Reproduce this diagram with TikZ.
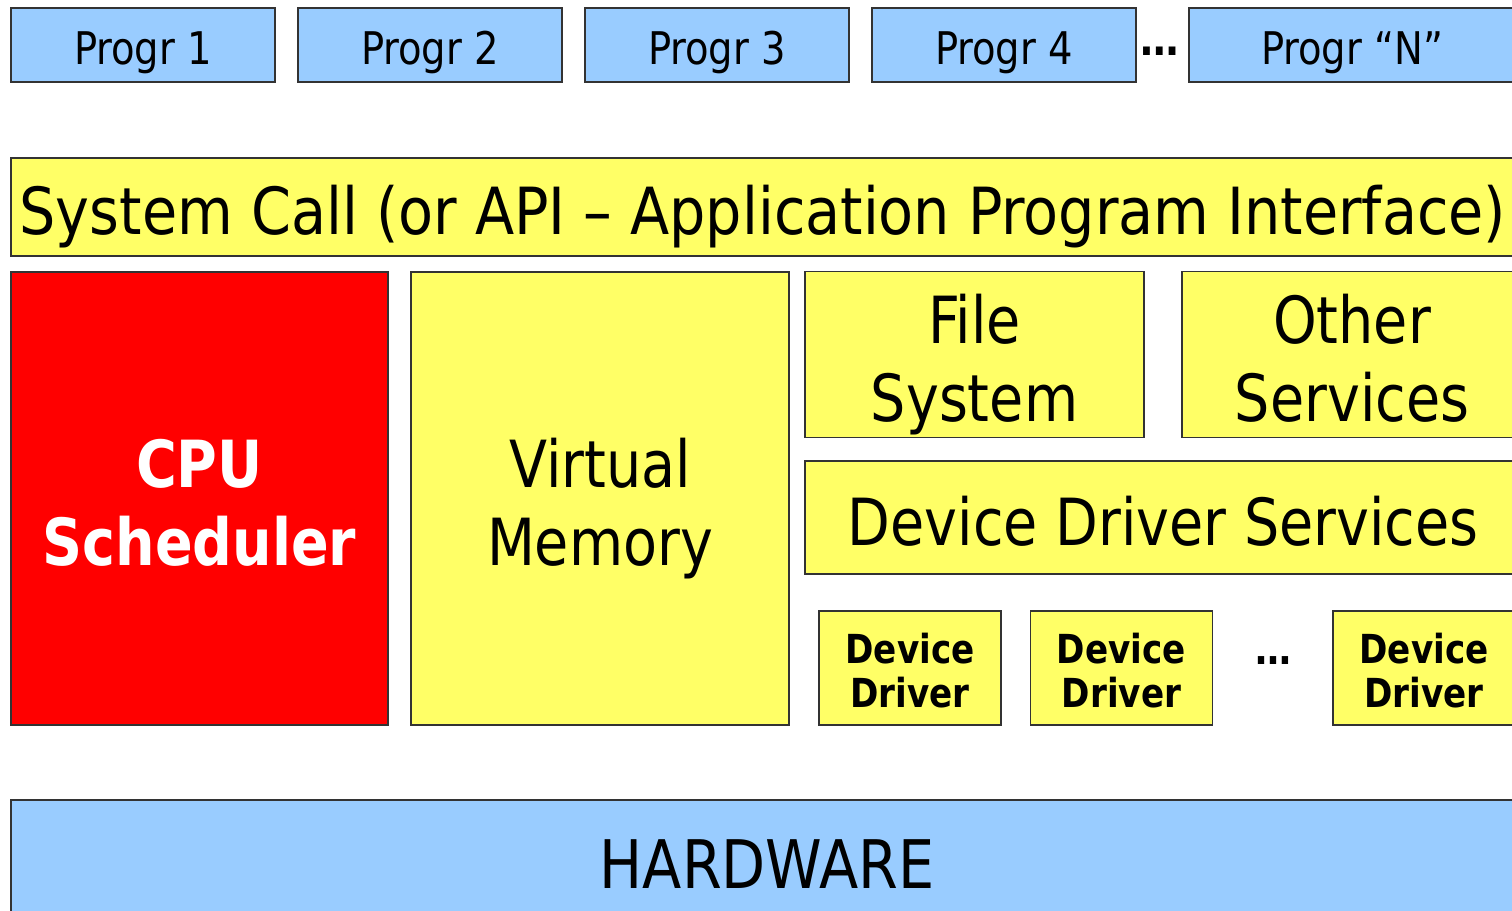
\documentclass[tikz,border=0pt]{standalone}
\usepackage{fontspec}
\usepackage{graphicx}
\setmainfont{DejaVu Sans Condensed}[FakeStretch=0.95]
\definecolor{pblue}{HTML}{99CCFF}
\definecolor{pyellow}{HTML}{FFFF66}
\definecolor{pred}{HTML}{FF0000}
\newcommand\tst{\rule{0pt}{1.1em}}
\newcommand\bst{\rule[-0.25em]{0pt}{0pt}}
\tikzset{
  box/.style={draw=black!80, line width=1.5pt, inner sep=0pt, align=center},
  progbox/.style={box, fill=pblue, minimum height=74pt, font=\fontsize{45}{50}\selectfont},
  bigtxt/.style={font=\fontsize{65}{78}\selectfont},
  ddbox/.style={box, fill=pyellow, minimum width=182pt, minimum height=114pt, font=\fontsize{40}{44}\selectfont\bfseries},
  dotnode/.style={inner sep=0pt}
}
\begin{document}
\begin{tikzpicture}[x=1pt,y=-1pt]
\useasboundingbox (0,0) rectangle (1512,910);
\clip (0,0) rectangle (1512,910);
\node[progbox, minimum width=264pt] (p1) at (143,45) {\tst Progr 1\bst};
\node[progbox, minimum width=264pt] (p2) at (430,45) {\tst Progr 2\bst};
\node[progbox, minimum width=264pt] (p3) at (717,45) {\tst Progr 3\bst};
\node[progbox, minimum width=264pt] (p4) at (1004,45) {\tst Progr 4\bst};
\node[dotnode, font=\fontsize{45}{50}\selectfont\bfseries] (pd) at (1160,51) {\dots};
\node[progbox, minimum width=326pt] (pn) at (1352,45) {\tst Progr “N”\bst};
\node[box, fill=pyellow, bigtxt, minimum width=1504pt, minimum height=98pt] (sc) at (763,207) {\scalebox{1.03}[1]{\tst System Call (or API – Application Program Interface)\bst}};
\node[box, fill=pred, text=white, font=\fontsize{65}{78}\selectfont\bfseries, minimum width=377pt, minimum height=453pt] (cpu) at (199.5,498.5) {\tst CPU\\Scheduler\bst};
\node[box, fill=pyellow, bigtxt, minimum width=378pt, minimum height=453pt] (vm) at (600,498.5) {\tst Virtual\\Memory\bst};
\node[box, fill=pyellow, bigtxt, minimum width=339pt, minimum height=165pt] (fs) at (974.5,354.5) {\tst File\\System\bst};
\node[box, fill=pyellow, bigtxt, minimum width=340pt, minimum height=165pt] (os) at (1352,354.5) {\tst Other\\Services\bst};
\node[box, fill=pyellow, bigtxt, minimum width=716pt, minimum height=113pt] (dds) at (1163,517.5) {\tst Device Driver Services\bst};
\node[ddbox] (dd1) at (910,668) {\tst Device\\Driver\bst};
\node[ddbox] (dd2) at (1121.5,668) {\tst Device\\Driver\bst};
\node[dotnode, font=\fontsize{42}{50}\selectfont\bfseries] (ddd) at (1273,661) {\dots};
\node[ddbox] (dd3) at (1424,668) {\tst Device\\Driver\bst};
\node[box, fill=pblue, font=\fontsize{67}{78}\selectfont, minimum width=1512pt, minimum height=120pt] (hw) at (767,860) {\tst HARDWARE\bst};
\end{tikzpicture}
\end{document}
